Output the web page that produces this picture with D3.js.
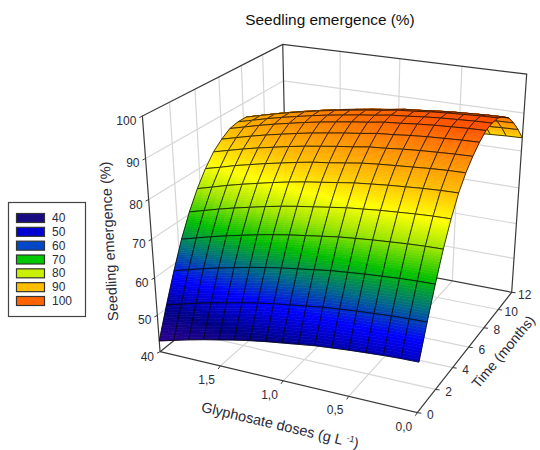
<!DOCTYPE html>
<html>
<head>
<meta charset="utf-8">
<script src="https://cdnjs.cloudflare.com/ajax/libs/d3/7.8.5/d3.min.js"></script>
<style>
    body { margin: 0; background: white; }
    svg { display: block; }
    text { font-family: "Liberation Sans", Arial, sans-serif; fill: #2b2b3a; }
</style>
</head>
<body>
<div id="wrapper"></div>
<script>

// Values
const doses = [0, 0.125, 0.25, 0.375, 0.5, 0.625, 0.75, 0.875, 1, 1.125, 1.25, 1.375, 1.5, 1.625, 1.75, 1.875, 2]
const months = [0, 0.75, 1.5, 2.25, 3, 3.75, 4.5, 5.25, 6, 6.75, 7.5, 8.25, 9, 9.75, 10.5, 11.25, 12]

// one row per month value, one column per dose
const emergence = [
    [53, 52.9, 52.7, 52.4, 52.1, 51.7, 51.3, 50.7, 50.1, 49.5, 48.8, 48, 47.1, 46.2, 45.2, 44.1, 43],
    [60.9, 60.8, 60.6, 60.3, 60, 59.6, 59.2, 58.6, 58, 57.4, 56.7, 55.9, 55, 54.1, 53.1, 52, 50.9],
    [68.3, 68.2, 68, 67.7, 67.4, 67, 66.6, 66, 65.4, 64.8, 64.1, 63.3, 62.4, 61.5, 60.5, 59.4, 58.3],
    [75, 74.9, 74.7, 74.4, 74.1, 73.7, 73.3, 72.7, 72.1, 71.5, 70.8, 70, 69.1, 68.2, 67.2, 66.1, 65],
    [80.6, 80.5, 80.3, 80, 79.7, 79.3, 78.9, 78.3, 77.7, 77.1, 76.4, 75.6, 74.7, 73.8, 72.8, 71.7, 70.6],
    [85.2, 85.1, 84.9, 84.6, 84.3, 83.9, 83.5, 82.9, 82.3, 81.7, 81, 80.2, 79.3, 78.4, 77.4, 76.3, 75.2],
    [88.5, 88.4, 88.2, 87.9, 87.6, 87.3, 86.9, 86.3, 85.7, 85.2, 84.5, 83.7, 82.9, 82, 81.1, 80, 79],
    [91, 90.9, 90.7, 90.5, 90.2, 89.8, 89.5, 88.9, 88.4, 87.8, 87.2, 86.5, 85.7, 84.9, 84, 83, 82],
    [93, 92.9, 92.7, 92.5, 92.2, 91.8, 91.5, 90.9, 90.4, 89.8, 89.2, 88.5, 87.7, 86.9, 86, 85, 84],
    [94.5, 94.4, 94.2, 94, 93.7, 93.3, 93, 92.4, 91.9, 91.3, 90.7, 90, 89.2, 88.4, 87.5, 86.5, 85.5],
    [95, 94.9, 94.7, 94.5, 94.2, 93.8, 93.5, 92.9, 92.4, 91.8, 91.2, 90.5, 89.7, 88.9, 88, 87, 86],
    [95, 94.9, 94.7, 94.5, 94.2, 93.8, 93.5, 92.9, 92.4, 91.8, 91.2, 90.5, 89.7, 88.9, 88, 87, 86],
    [94, 93.9, 93.7, 93.5, 93.2, 92.8, 92.5, 91.9, 91.4, 90.8, 90.2, 89.5, 88.7, 87.9, 87, 86, 85],
    [92.5, 92.4, 92.2, 92, 91.7, 91.3, 91, 90.4, 89.9, 89.3, 88.7, 88, 87.2, 86.4, 85.5, 84.5, 83.5],
    [90, 89.9, 89.7, 89.5, 89.2, 88.8, 88.5, 87.9, 87.4, 86.8, 86.2, 85.5, 84.7, 83.9, 83, 82, 81],
    [87, 86.9, 86.7, 86.5, 86.2, 85.8, 85.5, 84.9, 84.4, 83.8, 83.2, 82.5, 81.7, 80.9, 80, 79, 78],
    [83.5, 83.4, 83.2, 83, 82.7, 82.3, 82, 81.4, 80.9, 80.3, 79.7, 79, 78.2, 77.4, 76.5, 75.5, 74.5]
]

const doseTicks = [0, 0.5, 1, 1.5]
const doseTickLabels = ["0,0", "0,5", "1,0", "1,5"]
const timeTicks = [0, 2, 4, 6, 8, 10, 12]
const zTicks = [40, 50, 60, 70, 80, 90, 100]

const legendLabels = ["40", "50", "60", "70", "80", "90", "100"]
const legendColors = ["#180a80", "#0000d2", "#0048c8", "#00c800", "#c8f000", "#ffbe00", "#ff6400"]

const colorStops = [40, 50, 57, 63, 69, 75, 80, 85, 90, 95]
const colorValues = ["#400090", "#000088", "#0000ff", "#006a88", "#00c000", "#a0e600", "#ffff00", "#ffc000", "#ff8c00", "#ff5000"]

function draw(){

    // 1. Scales and camera
    const doseScale = d3.scaleLinear().domain([0, 2]).range([0, 1])
    const timeScale = d3.scaleLinear().domain([0, 12]).range([0, 1])
    const zScale = d3.scaleLinear().domain([40, 100]).range([0, 1])
    const colorScale = d3.scaleLinear().domain(colorStops).range(colorValues).clamp(true)

    // perspective camera fitted to the corners of the box
    const camera = {
        u: [-242.5, -28.62, 0.09208],
        v: [195.6, -62.57, 0.19782],
        w: [-33.13, -268.6, -0.09702],
        o: [417.3, 412.7, 1]
    }

    function project(dose, month, z){
        const u = doseScale(dose), v = timeScale(month), w = zScale(z)
        const p = [0, 1, 2].map(i => camera.o[i] + u * camera.u[i] + v * camera.v[i] + w * camera.w[i])
        return [p[0] / p[2], p[1] / p[2]]
    }

    const line = d3.line()

    const wrapper = d3.select("#wrapper")
        .append("svg")
        .attr("width", 540)
        .attr("height", 450)

    // 2. Box grid
    const grid = wrapper.append("g")
        .attr("class", "grid")
        .attr("fill", "none")
        .attr("stroke", "#d6d6d6")
        .attr("stroke-width", 1.2)

    const gridLines = []
    zTicks.slice(1, -1).forEach(z => {
        gridLines.push([project(2, 0, z), project(2, 12, z), project(0, 12, z)])
    })
    timeTicks.slice(1, -1).forEach(t => {
        gridLines.push([project(0, t, 40), project(2, t, 40), project(2, t, 100)])
    })
    doseTicks.slice(1).forEach(d => {
        gridLines.push([project(d, 0, 40), project(d, 12, 40), project(d, 12, 100)])
    })

    grid.selectAll("path")
        .data(gridLines)
        .join("path")
        .attr("d", d => line(d))

    // 3. Box frame and tick marks
    const frameLines = [
        [project(0, 12, 40), project(0, 12, 100), project(2, 12, 100), project(2, 0, 100), project(2, 0, 40)],
        [project(2, 0, 40), project(0, 0, 40), project(0, 12, 40), project(2, 12, 40), project(2, 0, 40)],
        [project(2, 12, 40), project(2, 12, 100)]
    ]

    wrapper.append("g")
        .attr("class", "frame")
        .attr("fill", "none")
        .attr("stroke", "#3a3a3a")
        .attr("stroke-width", 1.2)
        .selectAll("path")
        .data(frameLines)
        .join("path")
        .attr("d", d => line(d))

    const tickMarks = wrapper.append("g")
        .attr("class", "ticks")
        .attr("stroke", "#3a3a3a")

    tickMarks.selectAll(".z-tick")
        .data(zTicks)
        .join("line")
        .attr("class", "z-tick")
        .attr("x1", d => project(2, 0, d)[0])
        .attr("y1", d => project(2, 0, d)[1])
        .attr("x2", d => project(2, 0, d)[0] - 3)
        .attr("y2", d => project(2, 0, d)[1] + 1.5)

    tickMarks.selectAll(".t-tick")
        .data(timeTicks)
        .join("line")
        .attr("class", "t-tick")
        .attr("x1", d => project(0, d, 40)[0])
        .attr("y1", d => project(0, d, 40)[1])
        .attr("x2", d => project(0, d, 40)[0] + 4)
        .attr("y2", d => project(0, d, 40)[1] + 0.5)

    tickMarks.selectAll(".d-tick")
        .data(doseTicks)
        .join("line")
        .attr("class", "d-tick")
        .attr("x1", d => project(d, 0, 40)[0])
        .attr("y1", d => project(d, 0, 40)[1])
        .attr("x2", d => project(d, 0, 40)[0] - 2)
        .attr("y2", d => project(d, 0, 40)[1] + 3)

    // 4. Surface, far cells first so the near ones paint over them
    const cells = []
    for (let k = months.length - 2; k >= 0; k--) {
        for (let i = doses.length - 2; i >= 0; i--) {
            cells.push({k: k, i: i})
        }
    }

    // colour changes mostly along the months, so more strips that way
    const stepsDose = 2
    const stepsMonth = 14

    function surfaceAt(c, a, b){
        // a runs along the dose, b along the months, both 0..1 in the cell
        const z0 = emergence[c.k][c.i] * (1 - a) + emergence[c.k][c.i + 1] * a
        const z1 = emergence[c.k + 1][c.i] * (1 - a) + emergence[c.k + 1][c.i + 1] * a
        return {
            dose: doses[c.i] + (doses[c.i + 1] - doses[c.i]) * a,
            month: months[c.k] + (months[c.k + 1] - months[c.k]) * b,
            z: z0 * (1 - b) + z1 * b
        }
    }

    function shades(c){
        const parts = []
        for (let b = 0; b < stepsMonth; b++) {
            for (let a = 0; a < stepsDose; a++) {
                const corners = [[a, b], [a + 1, b], [a + 1, b + 1], [a, b + 1]]
                    .map(s => surfaceAt(c, s[0] / stepsDose, s[1] / stepsMonth))
                parts.push({
                    points: corners.map(p => project(p.dose, p.month, p.z)),
                    z: d3.mean(corners, p => p.z)
                })
            }
        }
        return parts
    }

    const surface = wrapper.append("g").attr("class", "surface")

    const cellGroups = surface.selectAll("g")
        .data(cells)
        .join("g")

    cellGroups.selectAll("path.shade")
        .data(c => shades(c))
        .join("path")
        .attr("class", "shade")
        .attr("d", d => line(d.points) + "Z")
        .attr("fill", d => colorScale(d.z))
        .attr("stroke", d => colorScale(d.z))
        .attr("stroke-width", 0.6)

    cellGroups.append("path")
        .attr("class", "mesh")
        .attr("d", c => line([
            project(doses[c.i], months[c.k], emergence[c.k][c.i]),
            project(doses[c.i + 1], months[c.k], emergence[c.k][c.i + 1]),
            project(doses[c.i + 1], months[c.k + 1], emergence[c.k + 1][c.i + 1]),
            project(doses[c.i], months[c.k + 1], emergence[c.k + 1][c.i])
        ]) + "Z")
        .attr("fill", "none")
        .attr("stroke", "#080808")
        .attr("stroke-opacity", 0.85)
        .attr("stroke-width", 0.9)

    // 5. Tick labels
    const labels = wrapper.append("g")
        .attr("class", "tick-labels")
        .attr("font-size", 12)

    labels.selectAll(".z-label")
        .data(zTicks)
        .join("text")
        .attr("class", "z-label")
        .attr("text-anchor", "end")
        .attr("x", d => project(2, 0, d)[0] - 6)
        .attr("y", d => project(2, 0, d)[1] + 9)
        .text(d => d)

    labels.selectAll(".t-label")
        .data(timeTicks)
        .join("text")
        .attr("class", "t-label")
        .attr("text-anchor", "middle")
        .attr("x", d => project(0, d, 40)[0] + 13)
        .attr("y", d => project(0, d, 40)[1] + 6.5)
        .text(d => d)

    labels.selectAll(".d-label")
        .data(doseTicks)
        .join("text")
        .attr("class", "d-label")
        .attr("text-anchor", "middle")
        .attr("x", d => project(d, 0, 40)[0] - 13.5)
        .attr("y", d => project(d, 0, 40)[1] + 18)
        .text((d, i) => doseTickLabels[i])

    // 6. Titles
    wrapper.append("text")
        .attr("x", 330)
        .attr("y", 25)
        .attr("text-anchor", "middle")
        .attr("font-size", 15.4)
        .style("fill", "#111")
        .text("Seedling emergence (%)")

    wrapper.append("text")
        .attr("text-anchor", "middle")
        .attr("font-size", 14.5)
        .attr("transform", "translate(114,241) rotate(-93)")
        .text("Seedling emergence (%)")

    const doseTitle = wrapper.append("text")
        .attr("text-anchor", "middle")
        .attr("font-size", 14.5)
        .attr("transform", "translate(279,430) rotate(13.3)")

    doseTitle.append("tspan").text("Glyphosate doses (g L ")
    doseTitle.append("tspan").attr("font-size", 9).attr("dy", -5).text("-1")
    doseTitle.append("tspan").attr("dy", 5).text(")")

    wrapper.append("text")
        .attr("text-anchor", "middle")
        .attr("font-size", 14)
        .attr("transform", "translate(507,355) rotate(-50)")
        .text("Time (months)")

    // 7. Legend
    const legend = wrapper.append("g").attr("class", "legend")

    legend.append("rect")
        .attr("x", 8.5)
        .attr("y", 202.5)
        .attr("width", 77)
        .attr("height", 114)
        .attr("fill", "white")
        .attr("stroke", "#444")
        .attr("stroke-width", 1.2)

    const legendY = d3.scalePoint().domain(legendLabels).range([218, 301])

    legend.selectAll("rect.swatch")
        .data(legendLabels)
        .join("rect")
        .attr("class", "swatch")
        .attr("x", 16.5)
        .attr("y", d => legendY(d) - 4.5)
        .attr("width", 28)
        .attr("height", 9)
        .attr("fill", (d, i) => legendColors[i])
        .attr("stroke", "#333")
        .attr("stroke-width", 1.2)

    legend.selectAll("text")
        .data(legendLabels)
        .join("text")
        .attr("x", 52)
        .attr("y", d => legendY(d) + 4)
        .attr("font-size", 12)
        .text(d => d)
}

draw()
</script>
</body>
</html>
